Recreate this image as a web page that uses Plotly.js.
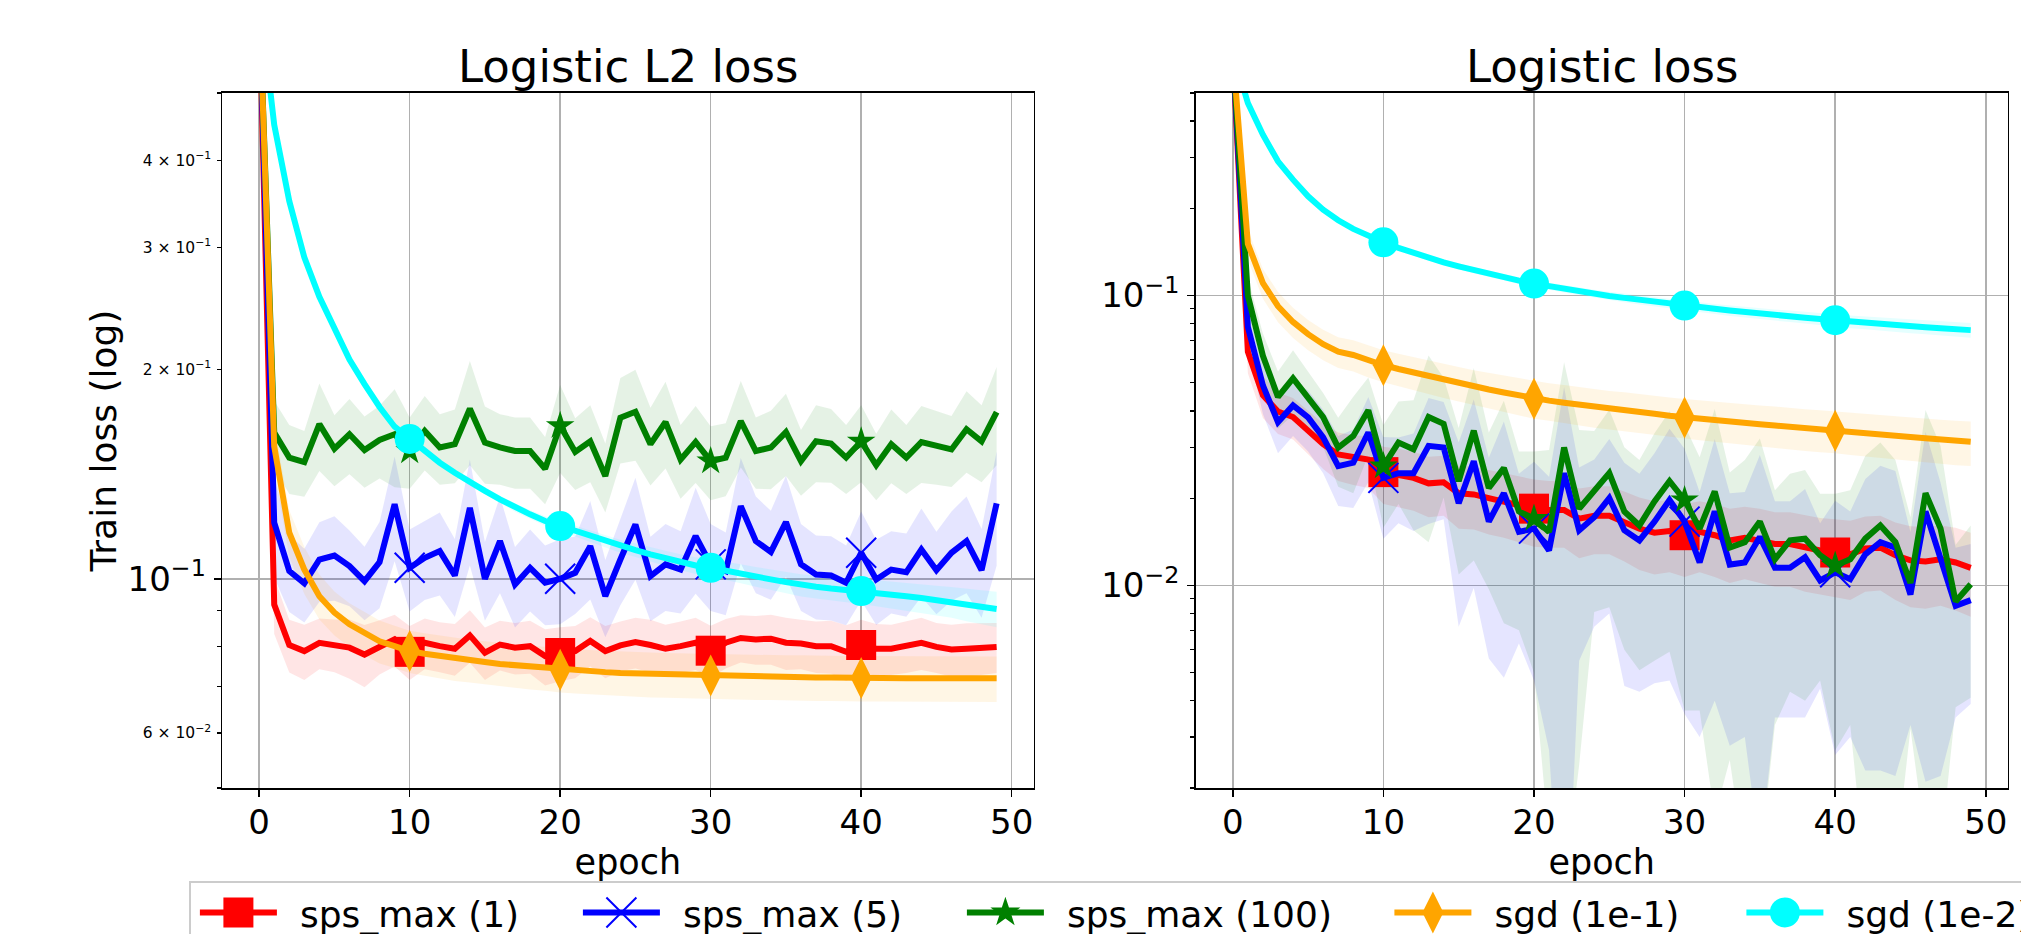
<!DOCTYPE html>
<html>
<head>
<meta charset="utf-8">
<script src="https://cdn.plot.ly/plotly-3.0.1.min.js"></script>
<style>
html, body { margin: 0; padding: 0; background: #ffffff; }
#chart { width: 2021px; height: 934px; }
</style>
</head>
<body>
<div id="chart"></div>
<script>
// ---------------- data ----------------
const epochs = [0,1,2,3,4,5,6,7,8,9,10,11,12,13,14,15,16,17,18,19,20,21,22,23,24,25,26,27,28,29,30,31,32,33,34,35,36,37,38,39,40,41,42,43,44,45,46,47,48,49];

const seriesNames = ['sps_max (1)', 'sps_max (5)', 'sps_max (100)', 'sgd (1e-1)', 'sgd (1e-2)'];

// Left panel: Logistic L2 loss (mean and std of train loss per epoch)
const l2_sps1 = [0.693,0.0918,0.0803,0.0787,0.0809,0.0804,0.0796,0.0778,0.0800,0.0818,0.0785,0.0809,0.0800,0.0793,0.0829,0.0783,0.0804,0.0796,0.0800,0.0774,0.0782,0.0787,0.0814,0.0787,0.0802,0.0811,0.0803,0.0793,0.0800,0.0809,0.0788,0.0809,0.0822,0.0818,0.0820,0.0809,0.0807,0.0800,0.0800,0.0785,0.0803,0.0793,0.0793,0.0800,0.0809,0.0798,0.0791,0.0793,0.0795,0.0798];
const l2_sps1_std = [0,0.0085,0.0070,0.0072,0.0068,0.0070,0.0078,0.0080,0.0072,0.0070,0.0070,0.0068,0.0066,0.0068,0.0072,0.0068,0.0066,0.0068,0.0070,0.0072,0.0070,0.0068,0.0066,0.0068,0.0066,0.0068,0.0070,0.0066,0.0068,0.0070,0.0068,0.0066,0.0064,0.0066,0.0068,0.0070,0.0066,0.0068,0.0070,0.0072,0.0070,0.0068,0.0066,0.0068,0.0070,0.0066,0.0068,0.0070,0.0068,0.0066];

const l2_sps5 = [0.693,0.1204,0.1026,0.0985,0.1066,0.1080,0.1043,0.0992,0.1057,0.1280,0.1037,0.1072,0.1096,0.1011,0.1265,0.1000,0.1133,0.0981,0.1037,0.0987,0.1000,0.1020,0.1114,0.0944,0.1066,0.1197,0.1009,0.1049,0.1031,0.1152,0.1049,0.1026,0.1272,0.1133,0.1093,0.1207,0.1049,0.1014,0.1011,0.0987,0.1090,0.0998,0.1031,0.1022,0.1102,0.1029,0.1090,0.1133,0.1029,0.1284];
const l2_sps5_std = [0,0.020,0.013,0.012,0.014,0.015,0.013,0.012,0.015,0.022,0.014,0.014,0.015,0.013,0.022,0.013,0.018,0.013,0.014,0.013,0.014,0.013,0.018,0.012,0.015,0.020,0.014,0.015,0.014,0.020,0.015,0.014,0.022,0.018,0.016,0.020,0.015,0.014,0.014,0.013,0.016,0.014,0.014,0.014,0.016,0.014,0.016,0.018,0.015,0.024];

const l2_sps100 = [0.693,0.1623,0.1494,0.1472,0.1669,0.1539,0.1614,0.1532,0.1584,0.1614,0.1527,0.1632,0.1545,0.1562,0.1757,0.1570,0.1545,0.1527,0.1527,0.1440,0.1660,0.1522,0.1577,0.1406,0.1705,0.1739,0.1562,0.1681,0.1484,0.1573,0.1477,0.1494,0.1686,0.1527,0.1545,0.1626,0.1477,0.1577,0.1565,0.1494,0.1577,0.1457,0.1562,0.1494,0.1573,0.1556,0.1535,0.1641,0.1577,0.1737];
const l2_sps100_std = [0,0.018,0.017,0.016,0.024,0.018,0.020,0.018,0.019,0.026,0.018,0.020,0.018,0.019,0.030,0.020,0.018,0.018,0.018,0.016,0.024,0.018,0.020,0.016,0.024,0.026,0.020,0.024,0.018,0.020,0.018,0.018,0.024,0.018,0.020,0.022,0.016,0.020,0.019,0.017,0.020,0.016,0.019,0.017,0.020,0.019,0.018,0.022,0.020,0.028];

const l2_sgd1 = [0.693,0.155,0.1165,0.1031,0.0944,0.0894,0.0860,0.0836,0.0813,0.0800,0.0787,0.0780,0.0774,0.0767,0.0763,0.0759,0.0754,0.0751,0.0747,0.0744,0.0740,0.0738,0.0736,0.0734,0.0732,0.0731,0.0729,0.0728,0.0727,0.0727,0.0726,0.0725,0.0724,0.0723,0.0723,0.0722,0.0722,0.0721,0.0721,0.0720,0.0720,0.0720,0.0720,0.0719,0.0719,0.0719,0.0719,0.0719,0.0719,0.0719];
const l2_sgd1_std = [0,0.012,0.009,0.008,0.007,0.0065,0.0062,0.0060,0.0058,0.0056,0.0055,0.0055,0.0055,0.0054,0.0054,0.0054,0.0054,0.0054,0.0054,0.0054,0.0054,0.0054,0.0054,0.0054,0.0054,0.0054,0.0054,0.0054,0.0054,0.0054,0.0054,0.0054,0.0054,0.0054,0.0054,0.0054,0.0054,0.0054,0.0054,0.0054,0.0054,0.0054,0.0054,0.0054,0.0054,0.0054,0.0054,0.0054,0.0054,0.0054];

const l2_sgd2 = [0.693,0.450,0.3495,0.290,0.2545,0.2296,0.2068,0.1906,0.1767,0.1655,0.1589,0.1527,0.1469,0.1421,0.1375,0.1338,0.1301,0.1266,0.1238,0.1211,0.1191,0.1171,0.1152,0.1133,0.1114,0.1100,0.1084,0.1070,0.1057,0.1045,0.1037,0.1026,0.1017,0.1007,0.0998,0.0989,0.0979,0.0974,0.0968,0.0964,0.0960,0.0954,0.0949,0.0944,0.0938,0.0932,0.0926,0.0918,0.0912,0.0905];
const l2_sgd2_std = [0,0.004,0.003,0.002,0.0015,0.0012,0.0011,0.0010,0.0010,0.0010,0.0010,0.0011,0.0012,0.0013,0.0014,0.0015,0.0016,0.0017,0.0018,0.0019,0.0020,0.0021,0.0022,0.0023,0.0024,0.0025,0.0026,0.0027,0.0028,0.0029,0.0030,0.0031,0.0032,0.0033,0.0034,0.0035,0.0036,0.0037,0.0038,0.0039,0.0040,0.0041,0.0042,0.0043,0.0044,0.0045,0.0047,0.0049,0.0051,0.0053];

// Right panel: Logistic loss
const lg_sps1 = [0.693,0.064,0.0453,0.0398,0.0381,0.0342,0.0307,0.0283,0.0276,0.0272,0.0246,0.0241,0.0235,0.0225,0.0227,0.0208,0.0206,0.0200,0.0195,0.0189,0.0184,0.0182,0.0182,0.0170,0.0174,0.0174,0.0166,0.0157,0.0152,0.0154,0.0149,0.0153,0.0149,0.0143,0.0146,0.0143,0.0139,0.0139,0.0135,0.0132,0.0130,0.0128,0.0134,0.0135,0.0127,0.0122,0.0121,0.0123,0.0120,0.0115];
const lg_sps1_std = [0,0.010,0.0075,0.0065,0.0062,0.0058,0.0055,0.0054,0.0054,0.0055,0.0055,0.0055,0.0054,0.0053,0.0053,0.0051,0.0050,0.0050,0.0049,0.0048,0.0048,0.0047,0.0047,0.0046,0.0046,0.0046,0.0045,0.0044,0.0043,0.0043,0.0042,0.0042,0.0042,0.0041,0.0041,0.0041,0.0040,0.0040,0.0040,0.0039,0.0039,0.0039,0.0039,0.0039,0.0038,0.0038,0.0038,0.0038,0.0038,0.0037];

const lg_sps5 = [0.693,0.078,0.049,0.0366,0.0418,0.0380,0.0324,0.0258,0.0265,0.0337,0.0235,0.0244,0.0244,0.0303,0.0299,0.0192,0.0268,0.0166,0.0208,0.0153,0.0157,0.0132,0.0244,0.0155,0.0172,0.0200,0.0155,0.0143,0.0166,0.0197,0.0166,0.0120,0.0180,0.0118,0.0120,0.0147,0.0115,0.0115,0.0125,0.0104,0.0111,0.0105,0.0128,0.0141,0.0135,0.0093,0.0180,0.0124,0.0085,0.0089];
const lg_sps5_std = [0,0.012,0.010,0.008,0.009,0.009,0.008,0.007,0.008,0.011,0.009,0.008,0.009,0.014,0.013,0.012,0.017,0.011,0.016,0.009,0.011,0.0105,0.024,0.010,0.010,0.012,0.011,0.010,0.012,0.015,0.013,0.009,0.014,0.009,0.009,0.0135,0.008,0.008,0.009,0.006,0.0085,0.0075,0.0105,0.0118,0.0113,0.006,0.0159,0.0102,0.005,0.005];

const lg_sps100 = [0.693,0.100,0.062,0.0447,0.0518,0.0447,0.0381,0.0299,0.0328,0.0402,0.0258,0.0311,0.0295,0.0381,0.0361,0.0229,0.0342,0.0217,0.0254,0.0180,0.0170,0.0153,0.0299,0.0184,0.0211,0.0244,0.0180,0.0161,0.0195,0.0229,0.0197,0.0157,0.0211,0.0135,0.0141,0.0166,0.0123,0.0143,0.0145,0.0127,0.0117,0.0123,0.0145,0.0161,0.0141,0.0102,0.0208,0.0157,0.0088,0.0101];
const lg_sps100_std = [0,0.015,0.012,0.010,0.013,0.010,0.008,0.008,0.012,0.012,0.010,0.012,0.014,0.024,0.016,0.012,0.022,0.012,0.018,0.011,0.012,0.014,0.029,0.016,0.013,0.016,0.012,0.011,0.014,0.017,0.016,0.012,0.0195,0.011,0.013,0.0155,0.009,0.010,0.0105,0.008,0.009,0.009,0.0135,0.015,0.013,0.007,0.0195,0.0145,0.005,0.006];

const lg_sgd1 = [0.693,0.151,0.1105,0.0919,0.0811,0.0736,0.0680,0.0640,0.0624,0.0597,0.0575,0.0558,0.0542,0.0526,0.0512,0.0499,0.0486,0.0474,0.0463,0.0452,0.0441,0.0434,0.0427,0.0420,0.0413,0.0407,0.0402,0.0396,0.0391,0.0385,0.0380,0.0376,0.0372,0.0368,0.0364,0.0360,0.0356,0.0352,0.0348,0.0345,0.0342,0.0338,0.0335,0.0331,0.0328,0.0325,0.0322,0.0318,0.0315,0.0313];
const lg_sgd1_std = [0,0.018,0.013,0.011,0.0097,0.0088,0.0082,0.0078,0.0077,0.0075,0.0073,0.0072,0.0071,0.0070,0.0069,0.0068,0.0067,0.0067,0.0066,0.0066,0.0065,0.0064,0.0064,0.0063,0.0063,0.0062,0.0062,0.0061,0.0061,0.0060,0.0060,0.0059,0.0059,0.0059,0.0058,0.0058,0.0058,0.0057,0.0057,0.0057,0.0056,0.0056,0.0056,0.0056,0.0055,0.0055,0.0055,0.0055,0.0055,0.0055];

const lg_sgd2 = [0.693,0.4618,0.359,0.2905,0.2512,0.2201,0.1979,0.1819,0.1698,0.1602,0.1527,0.1461,0.1404,0.1348,0.1302,0.1262,0.1223,0.1188,0.1156,0.1126,0.1100,0.1077,0.1054,0.1035,0.1016,0.0997,0.0982,0.0966,0.0951,0.0938,0.0924,0.0912,0.0900,0.0888,0.0876,0.0867,0.0858,0.0849,0.0839,0.0831,0.0822,0.0813,0.0807,0.0799,0.0792,0.0784,0.0778,0.0772,0.0766,0.0760];
const lg_sgd2_std = [0,0.006,0.005,0.004,0.0035,0.003,0.003,0.003,0.003,0.003,0.003,0.003,0.003,0.003,0.003,0.003,0.003,0.003,0.003,0.003,0.003,0.0031,0.0031,0.0032,0.0032,0.0033,0.0033,0.0034,0.0034,0.0035,0.0035,0.0036,0.0036,0.0037,0.0037,0.0038,0.0038,0.0039,0.0039,0.0040,0.0040,0.0041,0.0041,0.0042,0.0042,0.0043,0.0043,0.0044,0.0044,0.0045];

// tick labels
const xTickVals = [0, 10, 20, 30, 40, 50];
const leftMajorVals = [0.1];
const leftMajorText = ['10<sup>\u22121</sup>'];
const leftMinorLabelVals = [0.06, 0.2, 0.3, 0.4];
const leftMinorLabelText = ['6 \u00d7 10<sup>\u22122</sup>', '2 \u00d7 10<sup>\u22121</sup>', '3 \u00d7 10<sup>\u22121</sup>', '4 \u00d7 10<sup>\u22121</sup>'];
const leftMinorVals = [0.05, 0.07, 0.08, 0.09, 0.5];
const rightMajorVals = [0.01, 0.1];
const rightMajorText = ['10<sup>\u22122</sup>', '10<sup>\u22121</sup>'];
const rightMinorVals = [0.002,0.003,0.004,0.005,0.006,0.007,0.008,0.009,0.02,0.03,0.04,0.05,0.06,0.07,0.08,0.09,0.2,0.3,0.4,0.5];

// ---------------- styling ----------------
const colors = ['#ff0000', '#0000ff', '#008000', '#ffa500', '#00ffff'];
const bandRGB = ['255,0,0', '0,0,255', '0,128,0', '255,165,0', '0,255,255'];
const symbols = ['square', 'x-thin', 'star', 'diamond-tall', 'circle'];
const markerPx = [30, 30, 21.5, 30, 30];
const legendWidths = [291, 292, 335.5, 260, 260];
const FONT = 'DejaVu Sans, Verdana, sans-serif';

const leftSeries = [[l2_sps1, l2_sps1_std], [l2_sps5, l2_sps5_std], [l2_sps100, l2_sps100_std], [l2_sgd1, l2_sgd1_std], [l2_sgd2, l2_sgd2_std]];
const rightSeries = [[lg_sps1, lg_sps1_std], [lg_sps5, lg_sps5_std], [lg_sps100, lg_sps100_std], [lg_sgd1, lg_sgd1_std], [lg_sgd2, lg_sgd2_std]];

// shaded bands (mean +/- std) are drawn below all the lines, as in matplotlib
function bandTraces(series, xa, ya) {
  const out = [];
  series.forEach(([mean, std], i) => {
    const lo = mean.map((m, k) => Math.max(m - std[k], 1e-6));
    const hi = mean.map((m, k) => m + std[k]);
    out.push({x: epochs, y: lo, xaxis: xa, yaxis: ya, type: 'scatter', mode: 'lines',
      line: {width: 0, color: colors[i]}, showlegend: false, hoverinfo: 'skip'});
    out.push({x: epochs, y: hi, xaxis: xa, yaxis: ya, type: 'scatter', mode: 'lines',
      line: {width: 0, color: colors[i]}, fill: 'tonexty', fillcolor: 'rgba(' + bandRGB[i] + ',0.1)',
      showlegend: false, hoverinfo: 'skip'});
  });
  return out;
}
function lineTraces(series, xa, ya, withLegend) {
  return series.map(([mean], i) => {
    const sizes = epochs.map(e => (e % 10 === 0 ? markerPx[i] : 0));
    return {x: epochs, y: mean, xaxis: xa, yaxis: ya, type: 'scatter', mode: 'lines+markers',
      name: seriesNames[i], showlegend: withLegend, legendwidth: legendWidths[i],
      line: {color: colors[i], width: 6},
      marker: {symbol: symbols[i], size: sizes, color: colors[i], opacity: 1,
               line: {width: symbols[i] === 'x-thin' ? 2 : 0, color: colors[i]}}};
  });
}

const data = [].concat(
  bandTraces(leftSeries, 'x', 'y'),
  lineTraces(leftSeries, 'x', 'y', true),
  bandTraces(rightSeries, 'x2', 'y2'),
  lineTraces(rightSeries, 'x2', 'y2', false),
  [{x: [], y: [], xaxis: 'x', yaxis: 'y3', type: 'scatter', mode: 'lines', showlegend: false, hoverinfo: 'skip'}]
);

const W = 2021, H = 934;
const plotTop = 92.5, plotBottom = 788.5;
const plotH = plotBottom - plotTop;

const gridColor = '#b0b0b0';
function xAxis(domainPx, anchor) {
  return {
    domain: [domainPx[0] / W, domainPx[1] / W], anchor: anchor,
    range: [-2.45, 51.45], tickmode: 'array', tickvals: xTickVals, ticktext: xTickVals.map(String),
    ticks: 'outside', ticklen: 7, tickwidth: 1.6, tickcolor: '#000', ticklabelstandoff: -3,
    showgrid: true, gridcolor: gridColor, gridwidth: 1.5, zeroline: false,
    showline: true, linecolor: '#000', linewidth: 1.6, mirror: true,
    tickfont: {family: FONT, size: 34, color: '#000'},
    title: {text: 'epoch', font: {family: FONT, size: 35, color: '#000'}, standoff: 0}
  };
}
function logAxis(anchor, lo, hi, vals, text, minorVals) {
  return {
    anchor: anchor, domain: [0, 1], type: 'log', range: [Math.log10(lo), Math.log10(hi)],
    tickmode: 'array', tickvals: vals, ticktext: text,
    ticks: 'outside', ticklen: 7, tickwidth: 1.6, tickcolor: '#000', ticklabelstandoff: 1,
    showgrid: true, gridcolor: gridColor, gridwidth: 1.5, zeroline: false,
    showline: true, linecolor: '#000', linewidth: 1.6, mirror: true,
    tickfont: {family: FONT, size: 34, color: '#000'},
    minor: {tickmode: 'array', tickvals: minorVals, ticks: 'outside', ticklen: 4, tickwidth: 1.2, tickcolor: '#000', showgrid: false}
  };
}

const leftDom = [222.3, 1033.5];
const rightDom = [1195.9, 2007.6];

const yLeft = logAxis('x', 0.05, 0.5, leftMajorVals, leftMajorText, leftMinorVals);
yLeft.title = {text: 'Train loss (log)', font: {family: FONT, size: 36, color: '#000'}, standoff: 0};

const layout = {
  width: W, height: H,
  margin: {l: 0, r: 0, t: plotTop, b: H - plotBottom, pad: 0, autoexpand: false},
  paper_bgcolor: '#ffffff', plot_bgcolor: '#ffffff',
  font: {family: FONT, color: '#000'},
  showlegend: true,
  legend: {
    orientation: 'h', x: 189.4 / W, xanchor: 'left', y: (plotBottom - 881.7) / plotH, yanchor: 'top',
    font: {family: FONT, size: 36, color: '#000'}, bgcolor: '#ffffff', bordercolor: '#cccccc', borderwidth: 1.5,
    itemwidth: 77, traceorder: 'normal'
  },
  xaxis: xAxis(leftDom, 'y'),
  yaxis: yLeft,
  yaxis3: {
    overlaying: 'y', anchor: 'x', side: 'left', type: 'log', range: [Math.log10(0.05), Math.log10(0.5)],
    tickmode: 'array', tickvals: leftMinorLabelVals, ticktext: leftMinorLabelText,
    ticks: 'outside', ticklen: 4, tickwidth: 1.2, tickcolor: '#000', ticklabelstandoff: 3,
    showgrid: false, zeroline: false, showline: false,
    tickfont: {family: FONT, size: 15.5, color: '#000'}
  },
  xaxis2: xAxis(rightDom, 'y2'),
  yaxis2: logAxis('x2', 0.002, 0.5, rightMajorVals, rightMajorText, rightMinorVals),
  annotations: [
    {text: 'Logistic L2 loss', xref: 'x domain', yref: 'y domain', x: 0.5, y: 1, xanchor: 'center', yanchor: 'bottom',
     showarrow: false, font: {family: FONT, size: 45, color: '#000'}, yshift: -2},
    {text: 'Logistic loss', xref: 'x2 domain', yref: 'y2 domain', x: 0.5, y: 1, xanchor: 'center', yanchor: 'bottom',
     showarrow: false, font: {family: FONT, size: 45, color: '#000'}, yshift: -2}
  ]
};

Plotly.newPlot('chart', data, layout, {staticPlot: true, displayModeBar: false}).then(gd => {
  // legend: enlarge symbols to plot size (legend clamps marker size) and matplotlib-like spacing
  gd.querySelectorAll('.legend .traces').forEach(tr => {
    const txt = tr.querySelector('.legendtext');
    if (!txt) return;
    const idx = seriesNames.indexOf(txt.textContent);
    if (idx < 0) return;
    txt.setAttribute('transform', 'translate(22,0)');
    Array.from(tr.children).forEach(ch => {
      if (ch.tagName.toLowerCase() === 'g') ch.setAttribute('transform', 'translate(4,0)');
    });
    const p = tr.querySelector('.legendpoints path.scatterpts');
    if (!p) return;
    const bb = p.getBBox();
    let cur = Math.max(bb.width, bb.height);
    if (symbols[idx] === 'diamond-tall') cur = bb.height / 1.4;
    if (symbols[idx] === 'star') cur = bb.height / 1.33;
    if (!cur) return;
    const s = markerPx[idx] / cur;
    const t = p.getAttribute('transform') || '';
    p.setAttribute('transform', t + ' scale(' + s + ')');
    p.style.vectorEffect = 'non-scaling-stroke';
  });
});
</script>
</body>
</html>
